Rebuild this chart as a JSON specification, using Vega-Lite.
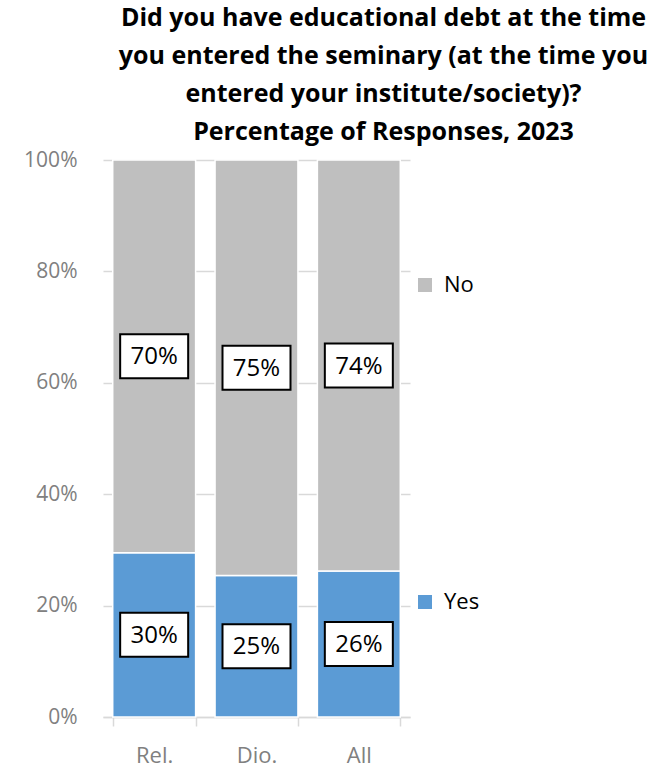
{
  "$schema": "https://vega.github.io/schema/vega-lite/v6.json",
  "width": 307,
  "height": 557,
  "autosize": "none",
  "padding": {"left": 103, "top": 160, "right": 248, "bottom": 52},
  "background": "white",
  "title": {
    "text": ["Did you have educational debt at the time", "you entered the seminary (at the time you", "entered your institute/society)?", "Percentage of Responses, 2023"],
    "anchor": "middle",
    "dx": 127,
    "offset": 4,
    "font": "Open Sans",
    "fontSize": 25,
    "fontWeight": "bold",
    "color": "#000000",
    "lineHeight": 38
  },
  "config": {
    "view": {"stroke": null},
    "font": "Open Sans"
  },
  "data": {
    "values": [
      {"group": "Rel.", "answer": "Yes", "pct": 29.5, "label": "30%", "ord": 1},
      {"group": "Rel.", "answer": "No", "pct": 70.5, "label": "70%", "ord": 2},
      {"group": "Dio.", "answer": "Yes", "pct": 25.4, "label": "25%", "ord": 1},
      {"group": "Dio.", "answer": "No", "pct": 74.6, "label": "75%", "ord": 2},
      {"group": "All", "answer": "Yes", "pct": 26.2, "label": "26%", "ord": 1},
      {"group": "All", "answer": "No", "pct": 73.8, "label": "74%", "ord": 2}
    ]
  },
  "transform": [
    {"stack": "pct", "groupby": ["group"], "sort": [{"field": "ord", "order": "ascending"}], "as": ["y0", "y1"]},
    {"calculate": "(datum.y0 + datum.y1) / 2", "as": "ymid"}
  ],
  "encoding": {
    "x": {
      "field": "group",
      "type": "nominal",
      "sort": ["Rel.", "Dio.", "All"],
      "scale": {"paddingInner": 0.19, "paddingOuter": 0.095},
      "axis": {
        "title": null,
        "labelAngle": 0,
        "labelFontSize": 22,
        "labelColor": "#808080",
        "labelPadding": 19,
        "domainColor": "#d9d9d9",
        "domainWidth": 1.5,
        "tickColor": "#d9d9d9",
        "tickWidth": 1.5,
        "tickSize": 9,
        "tickBand": "extent",
        "grid": false
      }
    }
  },
  "layer": [
    {
      "mark": {"type": "bar", "stroke": "white", "strokeWidth": 1.5},
      "encoding": {
        "y": {
          "field": "y0",
          "type": "quantitative",
          "scale": {"domain": [0, 100]},
          "axis": {
            "title": null,
            "values": [0, 20, 40, 60, 80, 100],
            "labelExpr": "datum.value + '%'",
            "labelFontSize": 21,
            "labelColor": "#808080",
            "labelPadding": 26,
            "domain": false,
            "ticks": false,
            "grid": true,
            "gridColor": "#d9d9d9",
            "gridWidth": 1.5
          }
        },
        "y2": {"field": "y1"},
        "color": {
          "field": "answer",
          "type": "nominal",
          "scale": {"domain": ["No", "Yes"], "range": ["#bfbfbf", "#5b9bd5"]},
          "legend": {
            "title": null,
            "orient": "none",
            "legendX": 311,
            "legendY": 114,
            "symbolType": "square",
            "symbolSize": 196,
            "symbolStrokeWidth": 0,
            "labelFontSize": 22,
            "labelColor": "#000000",
            "labelOffset": 8,
            "rowPadding": 295
          }
        }
      }
    },
    {
      "mark": {"type": "point", "shape": "M-1,-0.647H1V0.647H-1Z", "filled": true, "fill": "white", "stroke": "black", "strokeWidth": 2, "size": 4624, "opacity": 1},
      "encoding": {
        "y": {"field": "ymid", "type": "quantitative"}
      }
    },
    {
      "mark": {"type": "text", "fontSize": 24, "color": "black", "baseline": "middle", "dy": 1},
      "encoding": {
        "y": {"field": "ymid", "type": "quantitative"},
        "text": {"field": "label"}
      }
    }
  ]
}
